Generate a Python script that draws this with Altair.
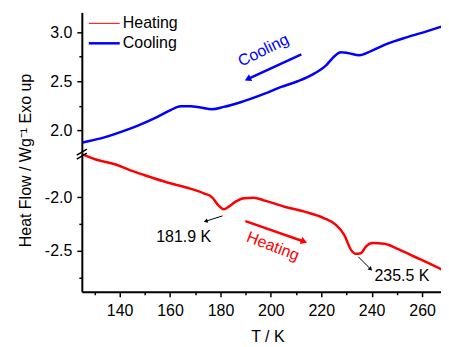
import altair as alt
import pandas as pd

# ---------------- data ----------------
cool_T = [125.3, 132.5, 141.7, 147.0, 155.0, 160.2, 164.2, 168.2, 172.1, 176.7, 181.3, 188.0,
          197.3, 204.1, 210.6, 217.2, 221.9, 225.2, 227.8, 230.4, 235.1, 239.7, 246.3, 254.2,
          262.1, 270.0]
cool_V = [1.878, 1.919, 1.996, 2.047, 2.138, 2.206, 2.246, 2.246, 2.233, 2.216, 2.239, 2.287,
          2.372, 2.442, 2.500, 2.578, 2.662, 2.754, 2.794, 2.787, 2.764, 2.807, 2.882, 2.949,
          3.010, 3.075]

heat_T = [125.3, 129.9, 137.8, 144.0, 149.7, 158.9, 166.8, 173.4, 176.7, 179.4, 181.3, 183.3,
          186.0, 189.3, 193.2, 197.6, 205.4, 213.3, 221.2, 225.8, 229.1, 231.8, 233.7, 235.7,
          237.7, 240.3, 245.0, 250.2, 256.8, 263.4, 270.7]
heat_V = [-1.599, -1.642, -1.689, -1.745, -1.791, -1.861, -1.910, -1.962, -2.000, -2.080, -2.111,
          -2.087, -2.040, -2.008, -2.003, -2.030, -2.087, -2.133, -2.195, -2.257, -2.350, -2.490,
          -2.527, -2.521, -2.459, -2.427, -2.434, -2.480, -2.552, -2.623, -2.707]

x_ticks = [130, 140, 150, 160, 170, 180, 190, 200, 210, 220, 230, 240, 250, 260]
top_ticks = [2.0, 2.25, 2.5, 2.75, 3.0]
bot_ticks = [-2.75, -2.5, -2.25, -2.0]

x_domain = [125, 267.5]
top_domain = [1.78, 3.2]
bot_domain = [-2.881, -1.577]

legend_labels = ["Heating", "Cooling"]
legend_colors = ["#ff0000", "#0000ff"]

# arrows: start (T, V) -> head (T2, V2)
arrow_T = [212.1, 189.9, 180.8, 234.7]
arrow_V = [2.774, -2.222, -2.173, -2.555]
arrow_T2 = [191.2, 212.8, 174.4, 239.4]
arrow_V2 = [2.527, -2.410, -2.221, -2.666]
arrow_angle = [244, 110, 252, 135]

note_text = ["Cooling", "Heating", "181.9 K", "235.5 K"]
note_T = [197.05, 200.8, 165.4, 252.0]
note_V = [2.814, -2.457, -2.371, -2.738]
note_angle = [334, 21, 0, 0]

BLUE = "#0000ff"
RED = "#ff0000"
FONT = "Liberation Sans"
PW, PH_TOP, PH_BOT = 360, 140, 140

# ---------------- encodings ----------------
xs = alt.Scale(domain=x_domain, nice=False, zero=False)
x_axis_bot = alt.Axis(
    values=x_ticks,
    tickSize={"condition": {"test": "datum.value % 20 != 0", "value": 3}, "value": 5},
    labelExpr="datum.value % 20 == 0 ? datum.label : ''",
    labelPadding=6,
    title="T / K",
    titleX=186, titleY=50, titleAlign="center", titleBaseline="alphabetic",
)
y_tick_size = {"condition": {"test": "abs(datum.value % 0.5) > 0.001", "value": 3}, "value": 5}
y_label_expr = ("abs(datum.value % 0.5) < 0.001 ? "
                "(datum.value < 0 ? '-' : '') + format(abs(datum.value), '.1f') : ''")
y_axis_top = alt.Axis(values=top_ticks, tickSize=y_tick_size, labelExpr=y_label_expr,
                      labelPadding=5, title=None)
y_axis_bot = alt.Axis(values=bot_ticks, tickSize=y_tick_size, labelExpr=y_label_expr,
                      labelPadding=5, title="Heat Flow / Wg\u207b\u00b9 Exo up",
                      titleX=-51, titleY=8, titleAngle=270, titleAlign="center",
                      titleBaseline="alphabetic")

X_top = alt.X("T:Q", scale=xs, axis=None)
Y_top = alt.Y("V:Q", scale=alt.Scale(domain=top_domain, nice=False, zero=False), axis=y_axis_top)
X_bot = alt.X("T:Q", scale=xs, axis=x_axis_bot)
Y_bot = alt.Y("V:Q", scale=alt.Scale(domain=bot_domain, nice=False, zero=False), axis=y_axis_bot)

cool_df = pd.DataFrame({"T": cool_T, "V": cool_V})
heat_df = pd.DataFrame({"T": heat_T, "V": heat_V})
arrows = pd.DataFrame({"T": arrow_T, "V": arrow_V, "T2": arrow_T2, "V2": arrow_V2})
heads = pd.DataFrame({"T": arrow_T2, "V": arrow_V2})
notes = pd.DataFrame({"text": note_text, "T": note_T, "V": note_V})


def arrow_layers(i, X, Y, color, width, head):
    rule = alt.Chart(arrows.iloc[[i]]).mark_rule(color=color, strokeWidth=width).encode(
        x=X, y=Y, x2="T2:Q", y2="V2:Q")
    tri = alt.Chart(heads.iloc[[i]]).mark_point(shape="triangle", filled=True, color=color,
                                                opacity=1, size=head,
                                                angle=arrow_angle[i]).encode(x=X, y=Y)
    return [rule, tri]


def note_layer(i, X, Y, color):
    return alt.Chart(notes.iloc[[i]]).mark_text(font=FONT, fontSize=16, color=color,
                                                angle=note_angle[i], align="center",
                                                baseline="middle").encode(
        x=X, y=Y, text="text:N")


# ---------------- top panel (cooling) ----------------
cool_line = alt.Chart(cool_df).mark_line(color=BLUE, strokeWidth=2.5, interpolate="monotone",
                                         clip=True).encode(x=X_top, y=Y_top)

legend_layers = []
for k, (lab, col) in enumerate(zip(legend_labels, legend_colors)):
    ypix = 11 + 20 * k
    ld = pd.DataFrame({"label": [lab]})
    legend_layers.append(alt.Chart(ld).mark_rule(color=col, strokeWidth=1 if k == 0 else 2.5).encode(
        x=alt.value(7), x2=alt.value(38), y=alt.value(ypix)))
    legend_layers.append(alt.Chart(ld).mark_text(font=FONT, fontSize=16, color="black",
                                                 align="left", baseline="middle").encode(
        x=alt.value(41), y=alt.value(ypix), text="label:N"))

top = alt.layer(
    cool_line,
    *arrow_layers(0, X_top, Y_top, BLUE, 2.5, 55),
    note_layer(0, X_top, Y_top, BLUE),
    *legend_layers,
).properties(width=PW, height=PH_TOP)

# ---------------- bottom panel (heating) ----------------
heat_line = alt.Chart(heat_df).mark_line(color=RED, strokeWidth=2.5, interpolate="monotone",
                                         clip=True).encode(x=X_bot, y=Y_bot)

brk = pd.DataFrame({"k": [0]})
break_marks = [
    alt.Chart(brk).mark_rule(color="black", strokeWidth=1.5).encode(
        x=alt.value(-5), x2=alt.value(5), y=alt.value(3), y2=alt.value(-3)),
    alt.Chart(brk).mark_rule(color="black", strokeWidth=1.5).encode(
        x=alt.value(-5), x2=alt.value(5), y=alt.value(7), y2=alt.value(1)),
]

bottom = alt.layer(
    heat_line,
    *arrow_layers(1, X_bot, Y_bot, RED, 2.5, 55),
    *arrow_layers(2, X_bot, Y_bot, "black", 1, 22),
    *arrow_layers(3, X_bot, Y_bot, "black", 1, 22),
    note_layer(1, X_bot, Y_bot, RED),
    note_layer(2, X_bot, Y_bot, "black"),
    note_layer(3, X_bot, Y_bot, "black"),
    *break_marks,
).properties(width=PW, height=PH_BOT)

chart = alt.vconcat(top, bottom, spacing=0, bounds="flush").properties(
    padding={"left": 9, "top": 4, "right": 0, "bottom": 0}
).configure(font=FONT).configure_view(strokeWidth=0).configure_axis(
    domainColor="black", domainWidth=2, tickColor="black", tickWidth=1.5,
    labelColor="black", titleColor="black", labelFontSize=16, titleFontSize=16,
    titleFontWeight="normal", grid=False, labelFont=FONT, titleFont=FONT,
)

chart.save("out.html", embed_options={"renderer": "svg", "actions": False})
